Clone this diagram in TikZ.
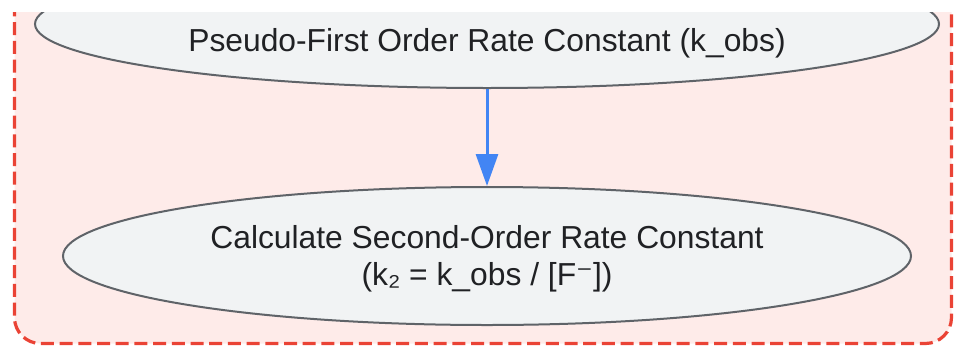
\documentclass[tikz,border=0pt]{standalone}
\usepackage{fontspec}
\setmainfont{Liberation Sans}
\newfontfamily\symfont{DejaVu Sans}
\usetikzlibrary{arrows.meta,shapes.geometric}
\definecolor{clfill}{HTML}{FEEBE9}
\definecolor{cldraw}{HTML}{EA4335}
\definecolor{elfill}{HTML}{F1F3F4}
\definecolor{eldraw}{HTML}{5F6368}
\definecolor{txt}{HTML}{202124}
\definecolor{flowc}{HTML}{4285F4}
\tikzset{
  clusterbox/.style={draw=cldraw, fill=clfill, line width=3.2pt, dash pattern=on 13pt off 5.7pt, rounded corners=26pt},
  procell/.style={ellipse, draw=eldraw, fill=elfill, line width=2pt, inner sep=0pt},
  lbl/.style={text=txt, font=\fontsize{31.8}{37}\selectfont, align=center, inner sep=0pt},
  flowarrow/.style={draw=flowc, line width=3pt, -{Triangle[width=22pt,length=32pt]}}
}
\begin{document}
\begin{tikzpicture}[x=1pt,y=-1pt]
\useasboundingbox (0,0) rectangle (954,346);
\begin{scope}
\clip (0,12) rectangle (954,346);
\draw[clusterbox] (14.5,-60) rectangle (951.5,343.5);
\node[procell, minimum width=904pt, minimum height=128pt] (e1) at (487,24) {};
\end{scope}
\node[lbl, anchor=base] (t1) at (487,51) {Pseudo-First Order Rate Constant (k\_obs)};
\node[procell, minimum width=848pt, minimum height=138pt] (e2) at (487,256) {};
\node[lbl, anchor=base] (t2) at (487,285) {Calculate Second-Order Rate Constant\\(k₂ = k\_obs / [F{\symfont ⁻}])};
\draw[flowarrow] (e1.south) -- (e2.north);
\end{tikzpicture}
\end{document}
